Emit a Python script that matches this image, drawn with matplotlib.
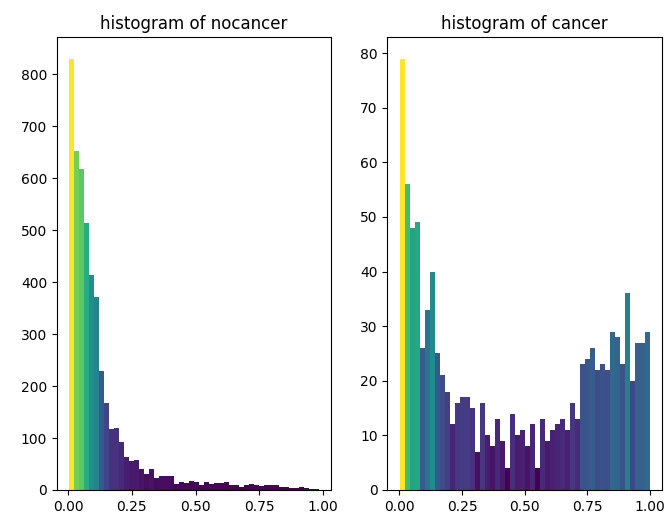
import numpy as np
import matplotlib
matplotlib.use("Agg")
import matplotlib.pyplot as plt
from matplotlib import colors

titles = ["histogram of nocancer", "histogram of cancer"]

nocancer_counts = [830, 652, 617, 513, 413, 371, 228, 168, 118, 120,
                   93, 64, 55, 57, 41, 30, 40, 24, 27, 27,
                   26, 11, 16, 14, 18, 15, 9, 16, 12, 14,
                   14, 16, 10, 10, 6, 9, 11, 9, 8, 10,
                   10, 9, 5, 5, 3, 3, 5, 4, 1, 1]
nocancer_range = (0.005, 0.982)

cancer_counts = [79, 56, 48, 49, 26, 33, 40, 25, 21, 18,
                 12, 16, 17, 17, 15, 7, 16, 10, 8, 13,
                 9, 4, 14, 10, 11, 8, 12, 4, 13, 9,
                 11, 12, 13, 11, 16, 13, 23, 24, 26, 22,
                 23, 22, 29, 28, 23, 36, 20, 27, 27, 29]
cancer_range = (0.003, 0.997)

fig = plt.figure(figsize=(6.68, 5.25), dpi=100)
ax1 = fig.add_axes([0.0853, 0.0667, 0.4102, 0.8628])
ax2 = fig.add_axes([0.5800, 0.0667, 0.4110, 0.8628])

for ax, counts, rng, title in [(ax1, nocancer_counts, nocancer_range, titles[0]),
                               (ax2, cancer_counts, cancer_range, titles[1])]:
    counts = np.array(counts, dtype=float)
    edges = np.linspace(rng[0], rng[1], len(counts) + 1)
    centers = (edges[:-1] + edges[1:]) / 2
    N, bins, patches = ax.hist(centers, bins=edges, weights=counts)
    fracs = N / N.max()
    norm = colors.Normalize(fracs.min(), fracs.max())
    for frac, patch in zip(fracs, patches):
        patch.set_facecolor(plt.cm.viridis(norm(frac)))
    ax.set_title(title, fontsize=12)
    ax.set_xticks([0.0, 0.25, 0.5, 0.75, 1.0])

fig.savefig("out.png", dpi=100)
